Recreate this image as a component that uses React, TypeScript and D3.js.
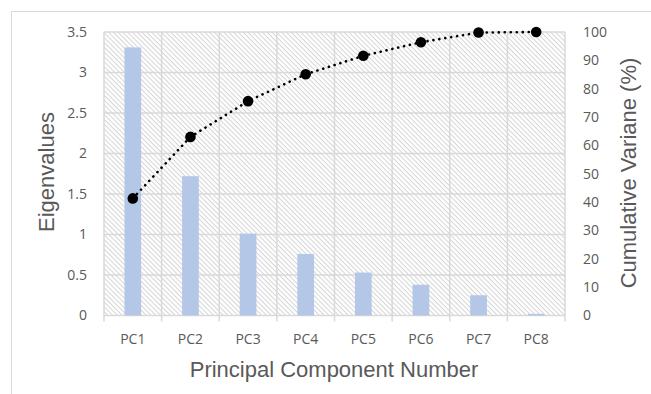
import React from "react";
import * as d3 from "d3";

const components = ["PC1", "PC2", "PC3", "PC4", "PC5", "PC6", "PC7", "PC8"];
const eigenvalues = [3.31, 1.72, 1.01, 0.76, 0.53, 0.38, 0.25, 0.02];
const cumulativeVariance = [41.3, 63.0, 75.6, 85.1, 91.6, 96.4, 99.8, 100];
const leftTicks = [0, 0.5, 1, 1.5, 2, 2.5, 3, 3.5];
const rightTicks = [0, 10, 20, 30, 40, 50, 60, 70, 80, 90, 100];

const W = 651;
const H = 394;
const plot = { left: 104, right: 565, top: 32, bottom: 315.5 };

const tickFont = "'Open Sans', 'Liberation Sans', sans-serif";
const titleFont = "'Liberation Sans', Arial, sans-serif";
const textColor = "#595959";
const gridColor = "#d9d9d9";

export default function App() {
  const x = d3.scaleBand<string>().domain(components).range([plot.left, plot.right]).paddingInner(0).paddingOuter(0);
  const yL = d3.scaleLinear().domain([0, 3.5]).range([plot.bottom, plot.top]);
  const yR = d3.scaleLinear().domain([0, 100]).range([plot.bottom, plot.top]);
  const barW = x.bandwidth() * 0.29;
  const cx = (c: string) => (x(c) as number) + x.bandwidth() / 2;

  const line = d3
    .line<number>()
    .x((_, i) => cx(components[i]))
    .y((d) => yR(d));

  const boundaries = components.map((c) => x(c) as number).concat([plot.right]);

  return (
    <svg
      width={W}
      height={H}
      style={{ position: "absolute", left: 0, top: 0, display: "block", background: "#fff" }}
    >
      <defs>
        <pattern
          id="hatch"
          patternUnits="userSpaceOnUse"
          width={4}
          height={3.4}
          patternTransform="rotate(45)"
        >
          <rect width={4} height={3.4} fill="#ffffff" />
          <line x1={0} x2={4} y1={0.5} y2={0.5} stroke="#d4d4d4" strokeWidth={1} />
        </pattern>
      </defs>

      {/* chart area frame */}
      <rect x={11.5} y={11.5} width={W} height={H} fill="none" stroke="#d9d9d9" strokeWidth={1} />

      {/* plot background */}
      <rect
        x={plot.left}
        y={plot.top}
        width={plot.right - plot.left}
        height={plot.bottom - plot.top}
        fill="url(#hatch)"
      />

      {/* gridlines */}
      {leftTicks.map((t) => (
        <line
          key={"h" + t}
          x1={plot.left}
          x2={plot.right}
          y1={yL(t)}
          y2={yL(t)}
          stroke={gridColor}
          strokeWidth={1.5}
        />
      ))}
      {boundaries.map((bx, i) => (
        <line
          key={"v" + i}
          x1={bx}
          x2={bx}
          y1={plot.top}
          y2={plot.bottom + 6}
          stroke={gridColor}
          strokeWidth={1.5}
        />
      ))}

      {/* eigenvalue bars */}
      {eigenvalues.map((v, i) => (
        <rect
          key={"b" + i}
          x={cx(components[i]) - barW / 2}
          y={yL(v)}
          width={barW}
          height={yL(0) - yL(v)}
          fill="#b4c7e7"
        />
      ))}

      {/* cumulative variance line */}
      <path
        d={line(cumulativeVariance) || ""}
        fill="none"
        stroke="#000"
        strokeWidth={2.6}
        strokeLinecap="round"
        strokeDasharray="0.1 5.9"
      />
      {cumulativeVariance.map((v, i) => (
        <circle key={"m" + i} cx={cx(components[i])} cy={yR(v)} r={5.3} fill="#000" />
      ))}

      {/* left axis labels */}
      {leftTicks.map((t) => (
        <text
          key={"lt" + t}
          x={87}
          y={yL(t)}
          dy="0.35em"
          textAnchor="end"
          fontFamily={tickFont}
          fontSize={14}
          fill={textColor}
        >
          {t}
        </text>
      ))}

      {/* right axis labels */}
      {rightTicks.map((t) => (
        <text
          key={"rt" + t}
          x={583}
          y={yR(t)}
          dy="0.35em"
          textAnchor="start"
          fontFamily={tickFont}
          fontSize={14}
          fill={textColor}
        >
          {t}
        </text>
      ))}

      {/* category labels */}
      {components.map((c) => (
        <text
          key={"c" + c}
          x={cx(c)}
          y={339}
          dy="0.35em"
          textAnchor="middle"
          fontFamily={tickFont}
          fontSize={14}
          fill={textColor}
        >
          {c}
        </text>
      ))}

      {/* axis titles */}
      <text
        x={334}
        y={369}
        dy="0.35em"
        textAnchor="middle"
        fontFamily={titleFont}
        fontSize={22}
        fill={textColor}
      >
        Principal Component Number
      </text>
      <text
        transform={`translate(46,${172}) rotate(-90)`}
        dy="0.35em"
        textAnchor="middle"
        fontFamily={titleFont}
        fontSize={22}
        fill={textColor}
      >
        Eigenvalues
      </text>
      <text
        transform={`translate(628,${173}) rotate(-90)`}
        dy="0.35em"
        textAnchor="middle"
        fontFamily={titleFont}
        fontSize={22}
        fill={textColor}
      >
        Cumulative Variane (%)
      </text>
    </svg>
  );
}
